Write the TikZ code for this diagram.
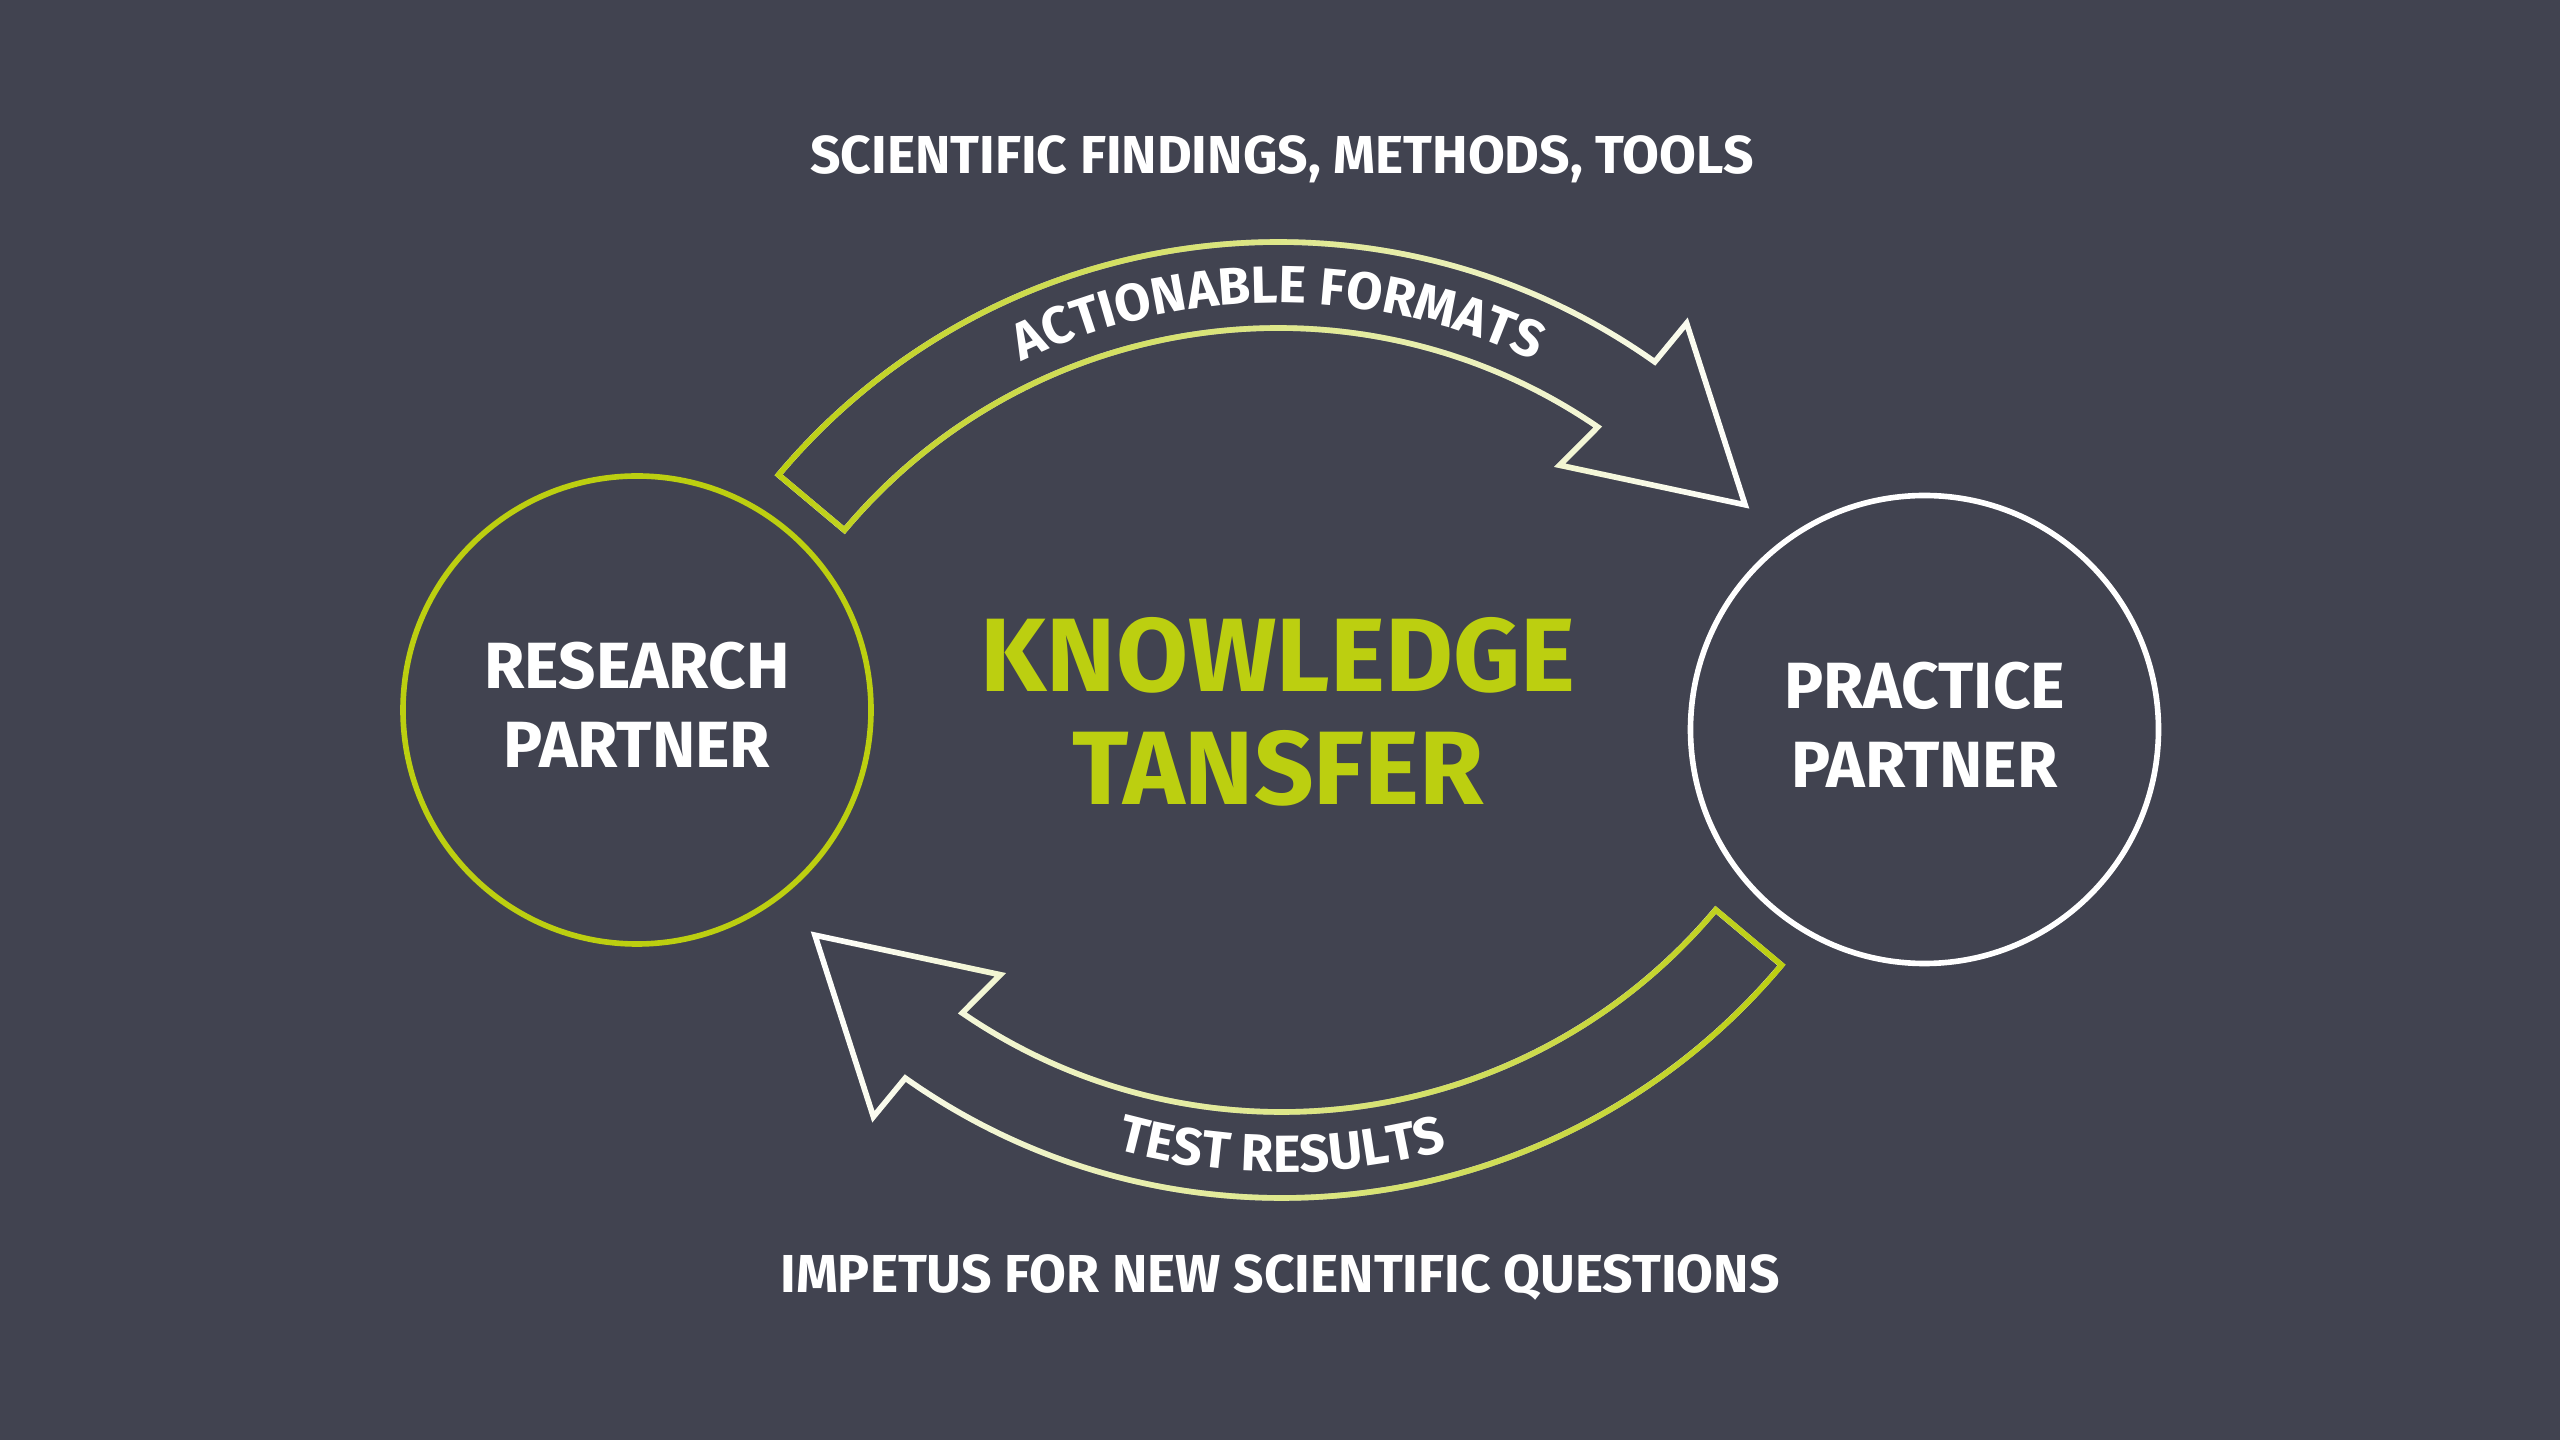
\documentclass[tikz,border=0pt]{standalone}
\usepackage{fontspec}
\setmainfont{Fira Sans}
\usetikzlibrary{decorations.text, fadings}
\definecolor{bgdark}{RGB}{65,67,80}
\definecolor{kgreen}{RGB}{188,207,16}
\newcommand{\captionfont}{\bfseries\fontsize{15.2}{18}\selectfont}
\newcommand{\partnerfont}{\bfseries\fontsize{18.6}{22.5}\selectfont}
\newcommand{\bigfont}{\bfseries\fontsize{29.7}{32.2}\selectfont}
\newcommand{\bandfont}{\bfseries\fontsize{14.9}{17}\selectfont}
\tikzfading[name=tailfade, left color=transparent!0, right color=transparent!100]
\tikzfading[name=tailfadeback, left color=transparent!100, right color=transparent!0]
\tikzstyle{partner} = [circle, minimum size=4.68cm, inner sep=0pt, line width=1.6pt, text=white, align=center, font=\partnerfont, text depth=0.1cm]
\tikzstyle{caption} = [anchor=base, text=white, font=\captionfont]
\tikzstyle{band} = [line width=1.6pt, line join=miter]
% curved block arrow, #1 = rotation of the whole shape
\newcommand{\bandshape}[1]{(140+#1:6.52) arc[start angle=140+#1, end angle=54.7+#1, radius=6.52] -- (54.4+#1:7.02) -- (39.8+#1:6.08) -- (56.7+#1:5.13) -- (55.6+#1:5.66) arc[start angle=55.6+#1, end angle=140+#1, radius=5.66] -- cycle}

\begin{document}
\begin{tikzpicture}
\fill[bgdark] (0,0) rectangle (25.6,14.4);
\useasboundingbox (0,0) rectangle (25.6,14.4);

\node (research) [partner, draw=kgreen] at (6.37,7.30) {RESEARCH\\PARTNER};
\node (practice) [partner, draw=white] at (19.245,7.105) {PRACTICE\\PARTNER};
\node (transfer) [text=kgreen, font=\bigfont, align=center, inner sep=0pt] at (12.78,7.285) {KNOWLEDGE\\TANSFER};

\node (findings) [caption] at (12.82,12.66) {SCIENTIFIC FINDINGS, METHODS, TOOLS};
\node (impetus) [caption] at (12.80,1.47) {IMPETUS FOR NEW SCIENTIFIC QUESTIONS};

% research -> practice
\begin{scope}[shift={(12.78,5.46)}]
\draw [band, white] \bandshape{0};
\draw [band, kgreen, path fading=tailfade] \bandshape{0};
\path [decorate, decoration={text along path, text align=center, text={|\bandfont\color{white}|ACTIONABLE FORMATS}}] (150:5.91) arc[start angle=150, end angle=30, radius=5.91];
\end{scope}

% practice -> research
\begin{scope}[shift={(12.82,8.94)}]
\draw [band, white] \bandshape{180};
\draw [band, kgreen, path fading=tailfadeback] \bandshape{180};
\path [decorate, decoration={text along path, text align=center, text={|\bandfont\color{white}|TEST RESULTS}}] (210:6.26) arc[start angle=210, end angle=330, radius=6.26];
\end{scope}

\end{tikzpicture}
\end{document}
